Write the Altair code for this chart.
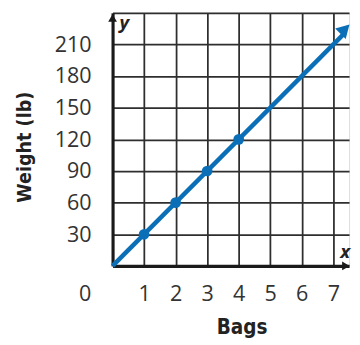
import altair as alt
import pandas as pd

bags = [1, 2, 3, 4]
weights = [30, 60, 90, 120]
line_x = [0, 7.35]
line_y = [0, 220.5]
x_ticks = [1, 2, 3, 4, 5, 6, 7]
y_ticks = [30, 60, 90, 120, 150, 180, 210, 240]

BLUE = "#0b6fb8"
FONT = "Open Sans"
GRID = "#2e2e2e"

pts = pd.DataFrame({"x": bags, "y": weights})
ln = pd.DataFrame({"x": line_x, "y": line_y})

xs = alt.Scale(domain=[0, 7.5], nice=False, zero=False)
ys = alt.Scale(domain=[0, 240], nice=False, zero=False)

xaxis = alt.Axis(
    values=x_ticks, grid=True, gridColor=GRID, gridWidth=1.8,
    domain=True, domainColor="#1a1a1a", domainWidth=3.2, ticks=False,
    labelFont=FONT, labelFontSize=22, labelColor="#333", labelPadding=28,
    labelBaseline="middle", labelOverlap=False, labelFlush=False,
    title="Bags", titleFont="DejaVu Sans Condensed", titleFontSize=21,
    titleFontWeight="bold", titleColor="#222", titleX=132, titleY=69,
    titleBaseline="alphabetic", titleAnchor="middle", titleAlign="center",
)
yaxis = alt.Axis(
    values=y_ticks, grid=True, gridColor=GRID, gridWidth=1.8,
    domain=True, domainColor="#1a1a1a", domainWidth=3.2, ticks=False,
    labelFont=FONT, labelFontSize=22, labelColor="#333", labelPadding=22,
    labelOverlap=False, labelFlush=False, labelBaseline="middle",
    labelExpr="datum.value == 240 ? '' : datum.label",
    title="Weight (lb)", titleFont="DejaVu Sans Condensed", titleFontSize=20,
    titleFontWeight="bold", titleColor="#222", titleX=-90, titleY=137,
    titleAngle=-90, titleBaseline="middle", titleAlign="center",
)

X = alt.X("x:Q", scale=xs, axis=xaxis)
Y = alt.Y("y:Q", scale=ys, axis=yaxis)

base = alt.Chart(ln).mark_line(color=BLUE, strokeWidth=4.5).encode(x=X, y=Y)

arrow_df = pd.DataFrame({"x": [7.37], "y": [224.5]})
blue_arrow = alt.Chart(arrow_df).mark_point(
    shape="triangle-up", filled=True, color=BLUE, size=230, angle=45, opacity=1
).encode(x=X, y=Y)

dots = alt.Chart(pts).mark_circle(color=BLUE, size=120, opacity=1).encode(x=X, y=Y)

yarrow_df = pd.DataFrame({"x": [0], "y": [235]})
yarrow = alt.Chart(yarrow_df).mark_point(
    shape="triangle-up", filled=True, color="#1a1a1a", size=80, opacity=1
).encode(x=X, y=Y)

xarrow_df = pd.DataFrame({"x": [7.4], "y": [0]})
xarrow = alt.Chart(xarrow_df).mark_point(
    shape="triangle-right", filled=True, color="#1a1a1a", size=80, opacity=1
).encode(x=X, y=Y)

zero_df = pd.DataFrame({"x": [0], "y": [0], "t": ["0"]})
zero = alt.Chart(zero_df).mark_text(
    font=FONT, fontSize=22, color="#333", dx=-28, dy=29, baseline="middle"
).encode(x=X, y=Y, text="t:N")

ylab_df = pd.DataFrame({"x": [0], "y": [240], "t": ["y"]})
ylab = alt.Chart(ylab_df).mark_text(
    font=FONT, fontSize=19, fontStyle="italic", fontWeight="bold", color="#222",
    dx=12, dy=11
).encode(x=X, y=Y, text="t:N")

xlab_df = pd.DataFrame({"x": [7.5], "y": [0], "t": ["x"]})
xlab = alt.Chart(xlab_df).mark_text(
    font=FONT, fontSize=19, fontStyle="italic", fontWeight="bold", color="#222",
    dx=-4, dy=-14
).encode(x=X, y=Y, text="t:N")

chart = alt.layer(base, dots, blue_arrow, yarrow, xarrow, zero, ylab, xlab).properties(
    width=242, height=259,
    autosize=alt.AutoSizeParams(type="none"),
    padding={"left": 107, "top": 1, "right": 3, "bottom": 77},
).configure_view(stroke=None).configure_axis(
    labelOverlap=False
).configure(background="white")

chart.save("out.html", embed_options={"renderer": "svg", "actions": False})
